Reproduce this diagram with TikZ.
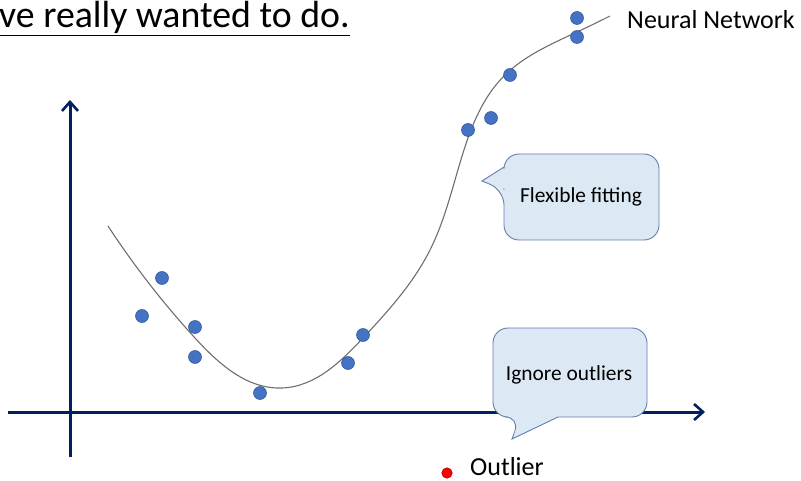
\documentclass[tikz,border=0pt]{standalone}
\usepackage{fontspec}
\setmainfont{Carlito}
\usetikzlibrary{arrows.meta,hobby}
\definecolor{axisblue}{RGB}{0,32,96}
\definecolor{dotblue}{RGB}{68,114,196}
\definecolor{dotedge}{RGB}{47,82,143}
\definecolor{calloutfill}{RGB}{221,232,245}
\definecolor{calloutedge}{RGB}{100,125,170}
\definecolor{curvegray}{RGB}{110,110,110}
\begin{document}
\begin{tikzpicture}[x=1pt,y=-1pt,
  axis/.style={draw=axisblue,line width=3pt,-{Straight Barb[length=9pt,width=16pt,line width=2.6pt]}},
  datadot/.style={circle,fill=dotblue,draw=dotedge,line width=0.5pt,minimum size=13pt,inner sep=0pt},
  outdot/.style={circle,fill=red,draw=red!60!black,line width=0.5pt,minimum size=10.5pt,inner sep=0pt},
  callout/.style={fill=calloutfill,draw=calloutedge,line width=0.9pt,rounded corners=15pt},
  label/.style={inner sep=0pt,font=\fontsize{26}{30}\selectfont},
  boxtext/.style={inner sep=0pt,font=\fontsize{21.4}{25}\selectfont}]
\useasboundingbox (0,0) rectangle (801,481);

% title line, cut at the left edge
\node[inner sep=0pt,anchor=base west,font=\fontsize{37.8}{42}\selectfont] (title) at (-1,28) {\underline{ve really wanted to do.}};

% axes
\coordinate (xs) at (8,412);
\coordinate (xe) at (705,412);
\coordinate (ys) at (70,457);
\coordinate (ye) at (70,100);
\draw[axis] (xs) -- (xe);
\draw[axis] (ys) -- (ye);

% fitted curve
\draw[curvegray,line width=1.1pt,use Hobby shortcut]
  (108,226) .. (195,338) .. (282,388) .. (363,338) .. (430,250)
  .. (463,153) .. (503,77) .. (577,32) .. (610,16);

% data points
\foreach \px/\py [count=\i] in {142/316,162/278,195/327,195/357,260/393,348/363,363/335,468/130,491/118,510/75,577/18,577/37}
  \node[datadot] (d\i) at (\px,\py) {};

% callout: flexible fitting
\draw[callout] (504,190) -- (504,154) -- (659,154) -- (659,240) -- (504,240) -- (504,190)
  [sharp corners] -- (482,181) -- (504,167);
\fill[calloutfill] (505.5,168) -- (484.5,181) -- (505.5,189) -- cycle;
\node[boxtext] (flex) at (581,197) {Flexible fitting};

% callout: ignore outliers
\draw[callout] (558,417) -- (647,417) -- (647,328) -- (493,328) -- (493,417) -- (520,417)
  [sharp corners] -- (512,439) -- (558,417);
\fill[calloutfill] (521,415.5) -- (514,435) -- (555,415.5) -- cycle;
\node[boxtext] (ign) at (569,375) {Ignore outliers};

% legend entries
\node[label,anchor=west] (nn) at (627,20) {Neural Network};
\node[outdot] (od) at (447,473) {};
\node[label,anchor=base west] (ol) at (470,475) {Outlier};
\end{tikzpicture}
\end{document}
